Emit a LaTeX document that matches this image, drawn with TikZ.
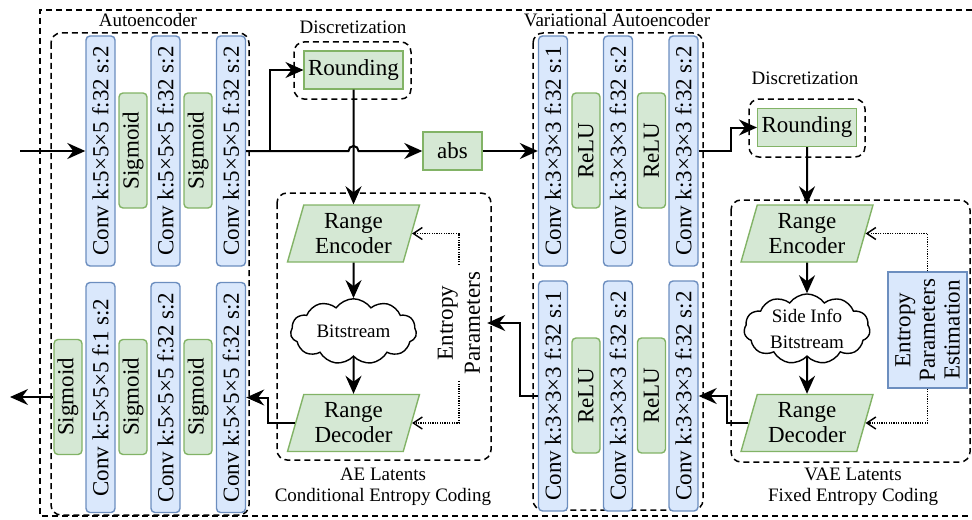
\documentclass[tikz,border=0pt]{standalone}
\usepackage{fontspec}
\setmainfont{Liberation Serif}
\usetikzlibrary{arrows.meta, shapes.geometric, shapes.symbols, calc}
\definecolor{convFill}{HTML}{DAE8FC}
\definecolor{convLine}{HTML}{6C8EBF}
\definecolor{actFill}{HTML}{D5E8D4}
\definecolor{actLine}{HTML}{82B366}

\begin{document}
\begin{tikzpicture}[x=0.5pt, y=-0.5pt,
  font=\fontsize{11.5}{12.5}\selectfont,
  conv/.style={draw=convLine, fill=convFill, line width=0.7pt, rounded corners=2pt, rotate=90,
    minimum width=115pt, minimum height=14.5pt, inner sep=0pt},
  act/.style={draw=actLine, fill=actFill, line width=0.7pt, rounded corners=2pt, rotate=90,
    minimum width=57.5pt, minimum height=14pt, inner sep=0pt},
  op/.style={draw=actLine, fill=actFill, line width=0.7pt, minimum height=19pt, inner sep=2pt},
  coder/.style={trapezium, trapezium left angle=68, trapezium right angle=112, trapezium stretches body,
    draw=actLine, fill=actFill, line width=0.7pt, align=center, minimum width=66pt, minimum height=28.5pt, inner sep=0pt},
  stream/.style={cloud, cloud puffs=11, cloud puff arc=110, aspect=2, draw, line width=0.7pt, fill=white,
    align=center, minimum width=63pt, minimum height=31pt, inner sep=0pt, font=\fontsize{9.5}{13}\selectfont},
  est/.style={draw=convLine, fill=convFill, line width=0.7pt, rotate=90, align=center,
    minimum width=58pt, minimum height=39.5pt, inner sep=0pt, font=\fontsize{11.5}{12.3}\selectfont},
  group/.style={draw, dash pattern=on 3pt off 2pt, line width=0.75pt, rounded corners=5pt},
  caption/.style={font=\fontsize{9.5}{10.5}\selectfont, align=center},
  arr/.style={line width=1pt, -{Stealth[length=9pt, width=8pt, inset=3pt]}},
  param/.style={line width=0.7pt, dash pattern=on 0.6pt off 0.6pt, -{Straight Barb[length=4.5pt, width=6pt]}}
]
\useasboundingbox (0,0) rectangle (972,519);

% frame and groups
\draw[dash pattern=on 3pt off 2pt, line width=0.9pt] (972,10) -| (40,516) -- (972,516);
\draw[group] (51,33) rectangle (249,515);
\draw[group] (533,33) rectangle (703,510);
\draw[group] (294,42) rectangle (411,99);
\draw[group] (749,99) rectangle (865,157);
\draw[group] (277,193) rectangle (491,460);
\draw[group] (731,200) rectangle (970,462);

\node[caption] (aeTitle) at (148,20) {Autoencoder};
\node[caption] (vaeTitle) at (617,20) {Variational Autoencoder};
\node[caption] (discTitleA) at (353,27) {Discretization};
\node[caption] (discTitleB) at (805,78) {Discretization};
\node[caption] (aeCap) at (383,487) {AE Latents\\Conditional Entropy Coding};
\node[caption] (vaeCap) at (853,487) {VAE Latents\\Fixed Entropy Coding};

% autoencoder, encoder row
\node[conv] (aeE1) at (100.5,151) {Conv k:5×5×5 f:32 s:2};
\node[act]  (aeS1) at (133,150.5) {Sigmoid};
\node[conv] (aeE2) at (165.5,151) {Conv k:5×5×5 f:32 s:2};
\node[act]  (aeS2) at (198,150.5) {Sigmoid};
\node[conv] (aeE3) at (231,151) {Conv k:5×5×5 f:32 s:2};

% autoencoder, decoder row
\node[act]  (aeS0) at (68,397) {Sigmoid};
\node[conv] (aeD1) at (100.5,397.5) {Conv k:5×5×5 f:1 s:2};
\node[act]  (aeS3) at (133,397) {Sigmoid};
\node[conv] (aeD2) at (165.5,397.5) {Conv k:5×5×5 f:32 s:2};
\node[act]  (aeS4) at (198,397) {Sigmoid};
\node[conv] (aeD3) at (231,397.5) {Conv k:5×5×5 f:32 s:2};

% variational autoencoder
\node[conv] (vaeE1) at (553,151) {Conv k:3×3×3 f:32 s:1};
\node[act]  (vaeR1) at (586,150.5) {ReLU};
\node[conv] (vaeE2) at (618,151) {Conv k:3×3×3 f:32 s:2};
\node[act]  (vaeR2) at (651.5,150.5) {ReLU};
\node[conv] (vaeE3) at (683.5,151) {Conv k:3×3×3 f:32 s:2};

\node[conv] (vaeD1) at (553,396) {Conv k:3×3×3 f:32 s:1};
\node[act]  (vaeR3) at (586,395.5) {ReLU};
\node[conv] (vaeD2) at (618,396) {Conv k:3×3×3 f:32 s:2};
\node[act]  (vaeR4) at (651.5,395.5) {ReLU};
\node[conv] (vaeD3) at (683.5,396) {Conv k:3×3×3 f:32 s:2};

% quantisation and entropy coding
\node[op, minimum width=48.5pt] (round1) at (353.5,70) {Rounding};
\node[op, minimum width=29.5pt] (abs) at (452.5,151) {abs};
\node[coder] (renc1) at (353.5,233.5) {Range\\Encoder};
\node[stream] (bits1) at (353.5,331.5) {Bitstream};
\node[coder] (rdec1) at (353.5,423) {Range\\Decoder};
\node[rotate=90, align=center, font=\fontsize{11.5}{13.5}\selectfont] (ep1) at (459,323) {Entropy\\Parameters};

\node[op, minimum width=49pt] (round2) at (807,127.5) {Rounding};
\node[coder] (renc2) at (807,233.5) {Range\\Encoder};
\node[stream] (bits2) at (807,329) {Side Info\\Bitstream};
\node[coder] (rdec2) at (807,423) {Range\\Decoder};
\node[est] (epe) at (927.5,330) {Entropy\\Parameters\\Estimation};

\coordinate (in) at (20,151);
\coordinate (out) at (10,397);

% data flow
\draw[arr] (in) -- (aeE1.north);
\draw[arr] (aeE3.south) -- ++(24,0) |- (round1.west);
\draw[arr] (aeE3.south) -- ($(aeE3.south -| round1.south)+(-2.5pt,0)$)
  arc[start angle=180, end angle=0, radius=2.5pt] -- (abs.west);
\draw[arr] (abs.east) -- (vaeE1.north);
\draw[arr] (round1.south) -- (renc1.north);
\draw[arr] (renc1.south) -- (bits1.north);
\draw[arr] (bits1.south) -- (rdec1.north);
\draw[arr] (rdec1.west) -- ++(-27,0) |- (aeD3.south);
\draw[arr] (aeS0.north) -- (out);
\draw[arr] (vaeD1.north) -- ++(-18,0) |- (ep1.south);
\draw[param] (ep1.east) |- (renc1.east);
\draw[param] (ep1.west) |- (rdec1.east);

\draw[arr] (vaeE3.south) -- ++(32,0) |- (round2.west);
\draw[arr] (round2.south) -- (renc2.north);
\draw[arr] (renc2.south) -- (bits2.north);
\draw[arr] (bits2.south) -- (rdec2.north);
\draw[arr] (rdec2.west) -- ++(-21,0) |- (vaeD3.south);
\draw[param] (epe.east) |- (renc2.east);
\draw[param] (epe.west) |- (rdec2.east);
\end{tikzpicture}
\end{document}
